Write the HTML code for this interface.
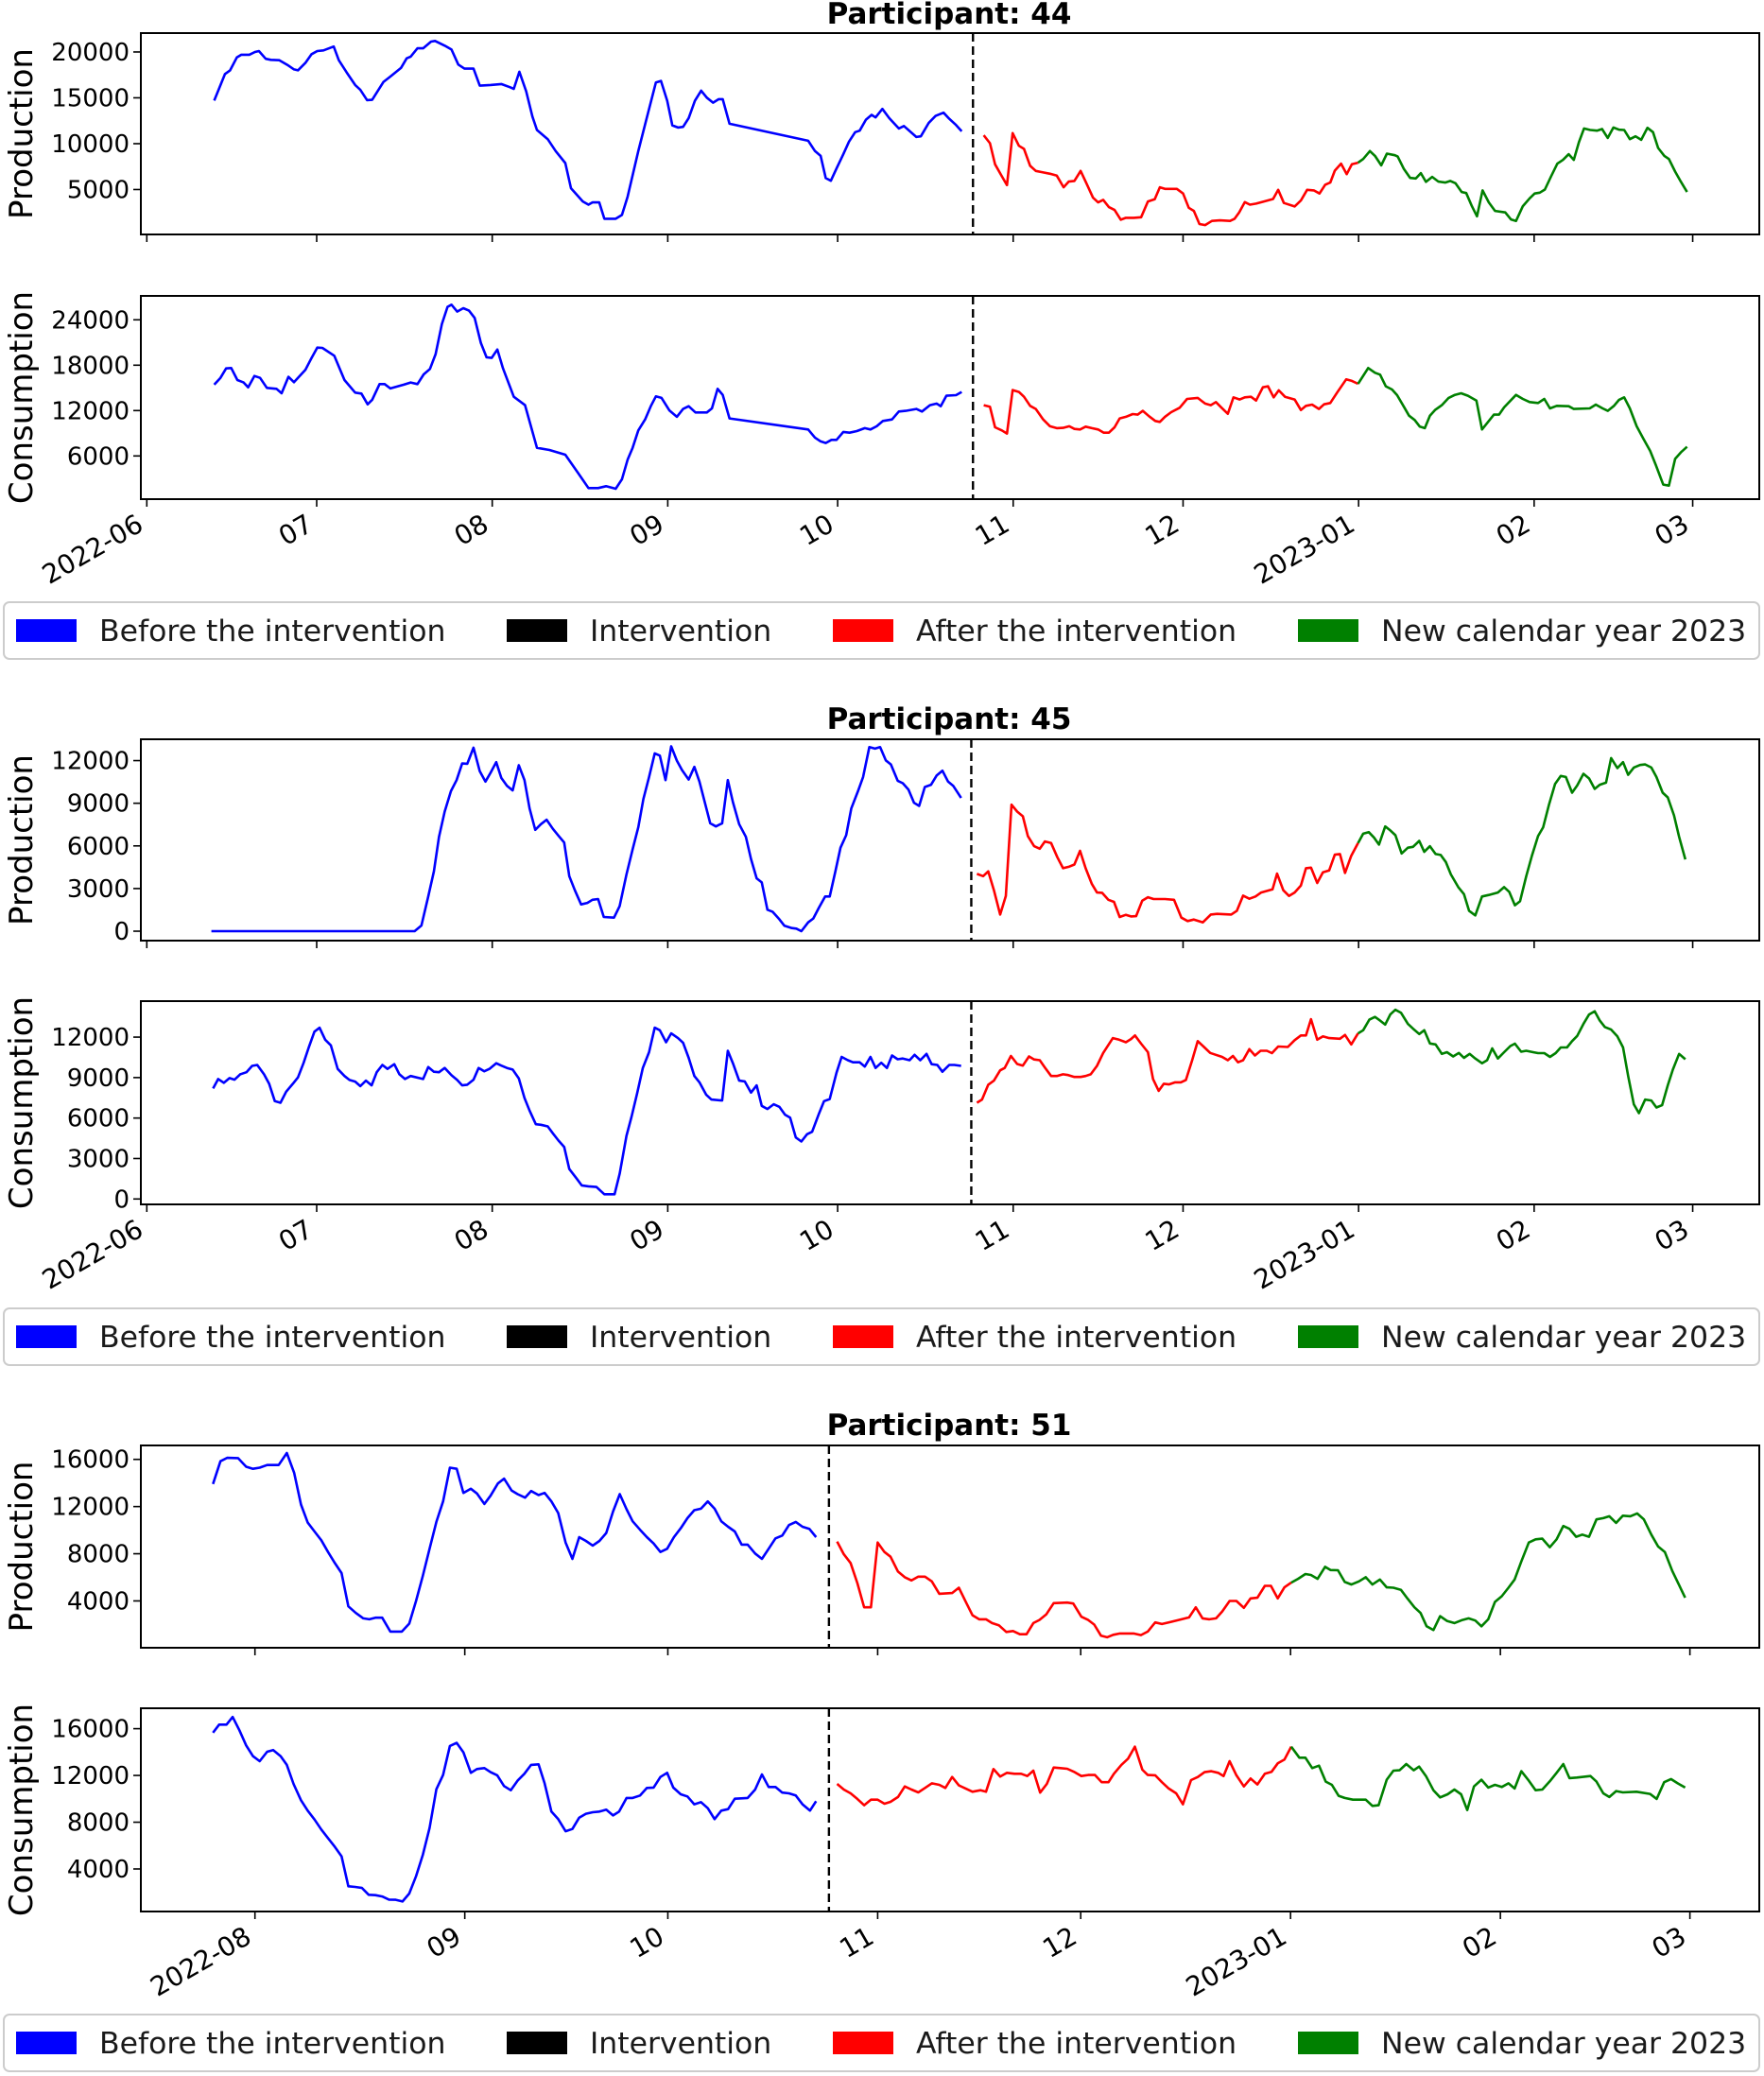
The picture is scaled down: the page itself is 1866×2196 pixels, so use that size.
<!DOCTYPE html>
<html><head><meta charset="utf-8">
<style>
html,body{margin:0;padding:0;background:#fff;}
svg{display:block;font-family:"DejaVu Sans","Liberation Sans",sans-serif;}
</style></head>
<body>
<svg id="fig" width="1866" height="2196" viewBox="0 0 1866 2196" xmlns="http://www.w3.org/2000/svg"></svg>
<script>
// ===== Participant 44 (days since 2022-06-01) =====
const p44ProdBeforeDays=[11.9,13.8,14.7,15.9,16.7,18.1,19.1,19.8,21,21.9,23.4,24.8,26,26.7,28,29.1,30.1,31.2,33,33.9,35.3,36.8,37.7,38.9,39.8,41.8,43,44.9,45.9,46.6,47.8,48.8,50.2,50.9,52.6,53.8,55,56.1,57.7,58.8,60.7,62.6,64.1,64.8,65.8,67,68.1,68.9,70.8,72.2,73.9,74.9,77,78,78.7,79.9,80.8,82.8,83.9,84.9,86.8,88.5,89.9,90.8,91.9,92.8,93.8,94.7,95.7,96.8,97.9,98.9,100,101,101.7,102.9,116.8,118,119,119.9,120.8,121.8,123,124,125.1,125.9,127,128,128.7,129.9,131.1,132.8,133.7,135.9,136.7,138.1,139.3,140.7,141.7,142.9,143.9];
const p44ProdBeforeVals=[14700,17600,18000,19400,19700,19700,20000,20100,19250,19140,19100,18600,18100,18000,18800,19760,20100,20170,20600,19100,17770,16400,15880,14750,14780,16740,17320,18280,19310,19490,20400,20400,21130,21200,20690,20270,18630,18180,18180,16330,16400,16500,16160,15980,17840,15710,12960,11490,10490,9190,7880,5140,3700,3350,3600,3600,1810,1810,2220,4210,9190,13310,16670,16840,14680,12000,11760,11830,12790,14680,15780,15020,14470,14850,14850,12170,10320,9190,8670,6240,5960,7300,8850,10220,11250,11420,12620,13140,12860,13790,12790,11660,11930,10730,10800,12280,13030,13380,12720,12040,11350];
const p44ProdAfterDays=[147.8,148.9,149.8,151,151.9,152.9,154,154.9,156,157,158.1,159.5,160.7,161.9,162.8,163.8,164.9,166,167.1,168,168.9,169.9,170.9,172,172.9,174.3,175.6,176.8,178,178.9,179.8,181.9,183,184,184.9,185.9,186.9,188.1,189.5,191.3,192.1,192.9,193.9,194.8,195.9,197.3,198.9,199.8,200.8,202.7,203.8,204.9,206.1,207.1,208.1,209,209.8,210.9,211.9,212.8,213.9];
const p44ProdAfterVals=[10910,10050,7750,6440,5480,11150,9770,9430,7580,7030,6890,6720,6510,5240,5860,5930,7030,5590,4110,3600,3870,3080,2770,1710,1910,1910,1980,3700,3940,5240,5070,5070,4560,3010,2670,1230,1120,1570,1640,1570,1810,2500,3630,3350,3460,3700,3970,4970,3530,3150,3800,4970,4900,4560,5520,5760,7060,7820,6680,7750,7920];
const p44ProdNewDays=[213.9,214.8,216,216.9,218,219,220.4,220.9,222,223.1,224.1,225,225.9,227,228.1,229.3,230.2,231.1,232.2,233,234,234.9,235.9,237,238.1,239.9,240.9,241.8,243,244.2,245.1,246,246.9,248,249.1,250.1,251.1,252,252.9,253.8,254.9,256.1,257,258,259,260,260.9,261.9,262.9,263.9,265,266,266.9,268,268.8,269.9,270.9,272];
const p44ProdNewVals=[7920,8330,9190,8670,7640,8910,8740,8600,7230,6270,6200,6790,5830,6380,5860,5760,5930,5690,4730,4620,3180,2080,4900,3600,2670,2500,1740,1570,3180,4040,4560,4660,5000,6440,7820,8230,8850,8230,10150,11660,11490,11420,11590,10630,11760,11520,11490,10490,10800,10420,11730,11250,9530,8670,8330,6960,5860,4730];
const p44ConsBeforeDays=[11.9,13,14,14.9,16,17.1,17.9,19,20,21.2,22.9,23.8,25,26,28,29.1,30.1,31,33.1,34.9,36.8,37.9,39,39.8,41.1,42,43,45.4,46.6,47.8,48.9,50,51,52.1,53.1,53.8,54.8,55.9,56.9,57.9,59,60,60.9,61.9,62.9,64.8,66.8,68.9,71.1,73.9,76.1,78,79.7,81.1,82.8,83.9,84.9,85.8,86.8,88,89,89.9,90.9,92.3,93.6,94.7,95.7,96.9,98.9,99.8,100.8,101.7,102.9,116.8,118,119,119.9,120.9,121.8,123,124.1,125.4,126.8,127.8,128.9,130,131.6,132.8,134,135.9,136.9,138.3,139.5,140.2,141.2,142.9,143.9];
const p44ConsBeforeVals=[15420,16330,17580,17620,16040,15710,15080,16580,16330,15000,14870,14290,16460,15750,17370,18960,20330,20290,19250,16040,14370,14250,12830,13420,15500,15500,14920,15420,15710,15500,16790,17500,19460,23420,25710,26000,25080,25540,25210,24250,20920,19040,18960,20080,17580,13830,12710,7080,6790,6170,3830,1750,1750,2000,1670,2920,5500,7080,9370,10830,12580,13870,13670,12000,11170,12210,12580,11750,11750,12290,14870,14080,10960,9500,8420,7920,7710,8120,8120,9170,9080,9290,9670,9500,9920,10620,10830,11870,11960,12210,11870,12710,12920,12580,13960,14040,14460];
const p44ConsAfterDays=[147.8,148.9,149.8,151,151.9,152.9,154,154.9,156,157,158.3,159.5,160.7,161.8,162.9,163.8,164.8,165.8,166.9,168,169,169.9,170.9,171.8,172.9,174.1,175,175.9,177,178.1,178.9,179.8,180.9,182.4,183.7,185.6,186.9,187.9,188.8,189.8,190.9,191.9,193,193.9,195,195.9,197.1,198,199,199.9,201,202.7,203.8,204.7,205.8,207,207.9,209,210.2,211.8,212.8,213.9];
const p44ConsAfterVals=[12710,12500,9790,9370,8960,14710,14460,13830,12620,12210,10830,9920,9670,9710,9920,9580,9500,9870,9670,9500,9080,9080,9790,10960,11170,11540,11460,11960,11250,10620,10500,11170,11790,12370,13540,13670,12920,12710,13120,12370,11580,13750,13460,13750,13830,13330,15080,15210,13750,14670,13830,13460,12080,12620,12790,12210,12830,13000,14370,16120,15920,15540];
const p44ConsNewDays=[213.9,215.7,216.9,217.8,218.8,219.9,220.8,222,222.9,223.9,224.8,225.7,226.6,227.5,228.7,229.9,231,232.1,233.3,234.8,235.8,237,237.9,238.8,239.7,241.8,243,244.2,245.7,246.8,247.8,249,251.1,252,254.8,255.9,257.1,258,259.1,260,260.9,261.9,263.1,264.3,265.5,266.5,267.8,268.8,269.9,270.9,272];
const p44ConsNewVals=[15540,17620,17000,16750,15210,14790,14040,12500,11330,10750,9870,9670,11330,12080,12710,13670,14080,14290,13960,13330,9500,10620,11460,11460,12420,14080,13540,13120,13000,13540,12290,12620,12580,12210,12290,12790,12290,11960,12620,13420,13750,12290,9920,8250,6670,4790,2210,2080,5620,6460,7210];

// ===== Participant 45 (days since 2022-06-01) =====
const p45ProdBeforeDays=[11.4,47.3,48.5,49.7,50.7,51.6,52.6,53.7,54.7,55.7,56.6,57.7,58.8,59.8,60.7,61.7,62.6,63.6,64.6,65.7,66.7,67.6,68.6,69.6,70.6,71.7,72.7,73.7,74.6,75.6,76.7,77.8,78.7,79.7,80.7,82.5,83.5,84.7,85.8,86.8,87.7,88.7,89.7,90.6,91.6,92.6,93.6,94.5,95.7,96.7,97.6,98.6,99.5,100.5,101.6,102.6,103.5,104.6,105.8,106.7,107.7,108.6,109.6,110.5,111.7,112.6,113.9,114.7,115.6,116.8,117.7,118.7,119.8,120.6,121.6,122.5,123.5,124.4,125.6,126.5,127.6,128.6,129.5,130.5,131.4,132.6,133.5,134.5,135.5,136.4,137.4,138.5,139.5,140.5,141.5,142.4,143.8];
const p45ProdBeforeVals=[0,0,400,2440,4210,6640,8410,9850,10630,11800,11780,12910,11250,10520,11140,11890,10780,10230,9900,11670,10630,8630,7130,7530,7840,7200,6710,6240,3870,2880,1880,1990,2210,2260,1000,950,1770,3990,5760,7310,9300,10850,12510,12350,10630,13000,12000,11340,10670,11560,10520,8970,7590,7370,7590,10630,9080,7530,6640,5090,3720,3430,1510,1370,840,380,220,180,0,620,890,1660,2440,2440,4210,5870,6750,8630,9850,10850,12950,12840,12950,12020,11730,10580,10410,9960,9030,8810,10140,10300,10960,11290,10520,10230,9370];
const p45ProdAfterDays=[146.6,147.7,148.6,149.6,150.7,151.7,152.7,153.7,154.7,155.6,156.7,157.7,158.6,159.7,160.8,161.8,162.9,163.8,164.8,165.8,166.9,167.8,168.7,169.8,170.8,171.8,172.9,173.8,174.7,175.8,176.8,177.8,179.8,181.4,182.7,183.8,184.9,186.5,187.9,189,191.5,192.5,193.6,194.7,195.8,196.8,198.8,199.6,200.7,201.7,202.7,203.8,204.7,205.6,206.7,207.7,208.8,209.8,210.7,211.6,212.7,213.9];
const p45ProdAfterVals=[4030,3870,4210,2880,1170,2480,8900,8410,8080,6690,5980,5800,6310,6200,5200,4430,4540,4690,5650,4430,3320,2720,2700,2210,2060,1000,1150,1040,1060,2150,2390,2260,2260,2210,950,710,820,620,1170,1220,1170,1440,2500,2280,2440,2720,2940,4050,2880,2480,2720,3210,4430,4470,3390,4140,4270,5380,5430,4100,5310,6200];
const p45ProdNewDays=[213.9,214.8,215.8,216.7,217.6,218.7,219.6,220.5,221.6,222.7,223.6,224.7,225.6,226.6,227.6,228.5,229.4,230.3,231.6,232.6,233.5,234.6,235.8,237,238.6,239.7,240.6,241.6,242.5,243.6,244.6,245.7,246.6,247.6,248.7,249.7,250.6,251.7,252.6,253.7,254.7,255.7,256.6,257.7,258.6,259.7,260.7,261.6,262.6,263.7,264.6,265.7,266.6,267.7,268.6,269.7,270.6,271.7];
const p45ProdNewVals=[6200,6860,6970,6600,6090,7370,7090,6750,5470,5870,5930,6350,5580,5980,5430,5360,4870,3990,3100,2610,1440,1110,2440,2550,2720,3100,2770,1820,2100,3870,5310,6690,7310,8860,10360,10920,10850,9740,10250,11070,10740,10010,10300,10450,12180,11470,11890,11000,11510,11690,11730,11510,10850,9740,9410,8150,6640,5050];
const p45ConsBeforeDays=[11.7,12.6,13.6,14.6,15.5,16.5,17.6,18.6,19.5,20.7,21.6,22.6,23.6,24.6,25.8,26.7,27.7,28.6,29.6,30.5,31.5,32.5,33.7,34.9,35.8,36.8,37.7,38.7,39.7,40.6,41.6,42.5,43.7,44.6,45.6,46.6,48.8,49.7,50.7,51.6,52.6,53.8,54.8,55.7,56.6,57.7,58.6,59.6,60.5,61.7,62.6,63.6,64.6,65.7,66.7,67.6,68.7,69.6,70.8,71.7,72.7,73.7,74.6,75.9,76.8,78,79.4,80.8,82.6,83.5,84.7,85.6,86.6,87.6,88.7,89.7,90.6,91.7,92.6,93.8,94.7,95.7,96.7,97.6,98.8,99.7,101.6,102.6,103.5,104.6,105.6,106.7,107.7,108.6,109.6,110.7,111.7,112.7,113.6,114.6,115.6,116.6,117.5,118.7,119.6,120.6,121.8,122.7,123.8,124.7,125.9,126.8,127.8,128.7,129.7,130.7,131.6,132.6,133.5,134.7,135.6,136.6,137.7,138.6,139.6,140.5,141.7,142.6,143.8];
const p45ConsBeforeVals=[8190,8890,8610,8960,8840,9240,9400,9870,9940,9240,8540,7250,7130,7950,8540,9010,10100,11230,12400,12700,11810,11390,9640,9120,8820,8700,8370,8770,8420,9400,9940,9640,9990,9240,8890,9120,8890,9780,9430,9400,9710,9170,8820,8420,8470,8840,9710,9470,9640,10060,9890,9710,9590,8940,7490,6550,5540,5500,5380,4870,4330,3860,2220,1520,1010,940,890,350,350,1870,4680,6080,7840,9710,10880,12700,12510,11620,12280,11930,11580,10460,9120,8650,7720,7370,7300,10990,10060,8770,8720,7880,8420,6900,6670,7020,6830,6250,6030,4560,4260,4800,4980,6320,7250,7410,9360,10530,10290,10130,10130,9820,10530,9710,10100,9710,10640,10360,10410,10290,10690,10290,10760,9990,9940,9430,9940,9940,9870];
const p45ConsAfterDays=[146.6,147.5,148.6,149.6,150.7,151.5,152.6,153.7,154.7,155.8,156.7,157.7,158.6,159.7,160.7,161.8,162.7,163.8,164.9,165.8,166.7,167.8,168.9,170.6,171.7,172.9,173.8,174.5,175.6,176.8,177.7,178.7,179.6,180.5,181.6,182.6,183.5,184.6,185.6,186.7,187.8,188.8,189.9,190.9,191.8,192.7,193.6,194.7,195.7,196.7,197.8,198.7,199.8,201.5,202.7,203.8,204.7,205.6,206.7,207.7,208.8,210.7,211.6,212.7,213.9];
const p45ConsAfterVals=[7130,7370,8470,8770,9540,9710,10600,10010,9890,10570,10340,10290,9750,9120,9120,9240,9190,9050,9050,9120,9240,9870,10830,11930,11810,11620,11860,12120,11510,10880,8890,8020,8540,8490,8650,8650,8820,10290,11700,11270,10830,10690,10530,10290,10600,10130,10290,11110,10640,10990,10990,10810,11300,11270,11770,12120,12120,13330,11810,12050,11930,11880,12160,11460,12280];
const p45ConsNewDays=[213.9,214.8,215.9,216.9,217.8,218.7,219.6,220.5,221.5,222.7,223.6,224.7,225.6,226.6,227.6,228.7,229.6,230.7,231.7,232.6,233.6,234.6,235.8,236.7,237.6,238.6,239.7,240.8,241.6,242.7,243.6,244.8,245.7,246.8,247.8,248.8,249.7,250.8,251.7,252.6,253.7,254.7,255.7,256.6,257.5,258.6,259.7,260.7,261.6,262.6,263.5,264.6,265.7,266.6,267.6,268.6,269.5,270.6,271.7];
const p45ConsNewVals=[12280,12510,13290,13500,13220,12930,13680,14030,13800,12980,12630,12230,12510,11530,11460,10760,10880,10570,10830,10460,10760,10410,10060,10290,11160,10410,10880,11340,11510,10920,10990,10880,10810,10810,10530,10810,11230,11230,11700,12090,12980,13680,13920,13220,12750,12560,12050,11230,9120,7020,6360,7370,7300,6780,6950,8420,9590,10760,10360];

// ===== Participant 51 (days since 2022-08-01) =====
const p51ProdBeforeDays=[-6.2,-5.1,-4.1,-2.5,-1.3,-0.3,0.7,1.8,3.5,4.7,5.8,6.8,7.8,8.8,9.8,10.8,11.8,12.8,13.8,14.9,16,16.9,17.8,18.8,20,21.7,22.8,23.8,24.8,25.8,26.8,27.8,28.8,29.8,30.8,31.9,32.8,33.9,34.8,35.9,36.8,37.9,38.8,39.9,40.8,41.9,42.8,43.8,44.8,45.9,46.9,47.9,48.9,49.9,50.9,51.9,52.9,53.9,54.9,55.8,56.9,57.9,58.9,59.9,60.9,61.9,62.9,63.9,64.9,65.9,66.9,67.9,68.9,69.9,70.9,71.9,72.8,73.9,74.9,75.9,76.9,77.9,78.9,79.9,80.9,81.9,82.9];
const p51ProdBeforeVals=[13910,15840,16130,16110,15380,15200,15300,15520,15520,16540,14850,12170,10640,9890,9140,8150,7210,6360,3540,2980,2520,2440,2580,2580,1400,1400,2070,4000,6140,8420,10700,12440,15300,15200,13160,13510,13110,12220,12920,13960,14370,13370,13050,12760,13320,12970,13160,12440,11450,8950,7560,9410,9090,8690,9090,9760,11580,13050,11770,10750,10030,9410,8870,8150,8420,9410,10160,11020,11690,11820,12440,11820,10750,10290,9890,8770,8770,8020,7560,8420,9300,9540,10430,10700,10290,10110,9410];
const p51ProdAfterDays=[86,87,88,89,90,91,92,93,93.9,95,96,97,98,99,100,101.1,103,104,105,106,107,108,108.9,109.9,111,112,113,114,115,115.9,116.9,118,120,120.9,122.1,123.1,124,125,125.9,126.8,127.8,129.8,130.9,131.9,133,134,135.2,136.9,138,139,140,141,142,142.9,144,145,146.1,147.1,148.1,149.2,150.1,151.1,152.1,153.1];
const p51ProdAfterVals=[9030,7960,7210,5520,3460,3460,8950,8150,7750,6490,6010,5740,6060,6060,5660,4610,4670,5120,3940,2790,2440,2440,2120,1940,1370,1450,1180,1180,2120,2390,2850,3810,3860,3780,2660,2390,1990,1050,920,1130,1240,1240,1100,1400,2180,2040,2200,2440,2600,3460,2520,2440,2520,3110,4000,4000,3410,4210,4270,5280,5280,4210,5150,5550];
const p51ProdNewDays=[153.1,154.1,155.2,156,157,158.1,158.9,160,161,162,163.1,164.1,165.1,166.2,167.2,168.2,169.3,170.3,171.3,172.2,173.1,174.1,175.1,176.1,177.2,178.4,179.3,180.3,181.2,182.2,183.2,184.2,185.2,186.1,187.1,188.2,189.2,190.2,191.3,192.3,193.3,194.2,195.2,196.1,197.1,198.2,199.2,200.1,201.1,202.1,203.2,204.2,205.2,206.3,207.3,208.3,209.4,210.4,211.3];
const p51ProdNewVals=[5550,5870,6280,6200,5870,6890,6620,6600,5610,5390,5660,6010,5390,5820,5150,5120,4940,4190,3460,2980,1850,1530,2710,2310,2120,2390,2520,2340,1850,2440,3920,4400,5120,5820,7350,8950,9220,9280,8550,9220,10350,10110,9440,9620,9440,10910,11020,11180,10620,11230,11180,11420,10910,9620,8610,8150,6540,5340,4270];
const p51ConsBeforeDays=[-6.2,-5.3,-4.2,-3.3,-2.3,-1.3,-0.3,0.7,1.8,2.7,3.8,4.7,5.7,6.8,7.8,8.8,9.8,10.8,11.8,12.8,13.8,14.8,15.8,16.8,17.8,18.8,19.8,20.8,21.8,22.8,23.8,24.8,25.8,26.8,27.8,28.8,29.8,30.8,31.9,32.8,33.9,34.8,35.8,36.8,37.8,38.8,39.8,40.8,41.9,42.8,43.8,44.8,45.9,46.9,47.9,48.9,49.9,50.9,51.9,52.9,53.8,54.9,55.8,56.9,57.9,58.9,59.9,60.9,61.8,62.9,63.9,64.9,65.9,66.9,67.9,68.9,69.9,70.9,72.8,73.9,74.9,75.9,76.9,77.9,78.9,79.9,80.9,82,82.9];
const p51ConsBeforeVals=[15650,16350,16350,17000,15870,14570,13650,13220,14030,14170,13650,12900,11280,9880,8990,8230,7370,6640,5890,5080,2520,2460,2380,1790,1760,1650,1380,1360,1220,1900,3380,5210,7500,10820,12040,14520,14790,13980,12220,12550,12630,12280,12010,11090,10740,11550,12140,12900,12950,11330,8910,8260,7230,7420,8390,8720,8850,8910,9070,8580,8910,10070,10070,10280,10930,10960,11870,12220,10960,10390,10200,9530,9720,9200,8260,8990,9120,10010,10070,10790,12090,11010,11010,10530,10470,10280,9530,8990,9800];
const p51ConsAfterDays=[86,87,88,89,90,91,92,93,93.9,95,96,97,98,99,100,101.1,102,103,104,105,106,107.2,108,109.1,110.1,111.1,112.2,113.2,114.1,115,116,117,118,119,120,121.1,122.1,123.1,124.1,125.1,126.1,126.9,128,129,130,131.1,131.9,133,134,135,136.1,137.1,138.3,139.3,140.3,141.3,142.3,143.1,144,145,146.1,147.1,148.1,149.2,150.2,151.1,152.1,153.1];
const p51ConsAfterVals=[11280,10790,10470,9990,9450,9930,9930,9580,9740,10150,11060,10790,10550,10930,11330,11200,10930,11870,11150,10880,10610,10740,10610,12550,11900,12220,12140,12140,11950,12410,10530,11280,12680,12630,12570,12280,11950,12040,12040,11420,11420,12140,12900,13440,14460,12490,12040,12010,11420,10880,10470,9530,11600,11870,12280,12360,12220,11950,13220,12010,11060,11740,11230,12140,12310,13030,13360,14460];
const p51ConsNewDays=[153.1,154.3,155.2,156.2,157.2,158.2,159.1,160.1,161,162.2,164.1,165.1,166,167.2,168.2,169.1,170.1,171.2,172,173,174.1,175.1,176.2,177.2,178.2,179.1,180.1,181.2,182.2,183.2,184.2,185.2,186.1,187.1,188.2,189.2,190.2,191.3,192.3,193.3,194.2,195.3,197.3,198.2,199.2,200.1,201.1,202.1,204.1,206.1,207.1,208.2,209.2,210.2,211.3];
const p51ConsNewVals=[14460,13520,13520,12630,12840,11470,11200,10260,10070,9930,9930,9390,9450,11630,12410,12440,12980,12440,12760,11950,10740,10120,10390,10790,10390,9040,11060,11630,10960,11200,11010,11330,10880,12360,11550,10740,10790,11500,12220,12980,11770,11820,11950,11470,10470,10150,10660,10550,10610,10420,9990,11420,11690,11330,10960];

// ===== axis ticks / labels =====
const p44ProdTicks=[5000,10000,15000,20000];
const p44ConsTicks=[6000,12000,18000,24000];
const p45ProdTicks=[0,3000,6000,9000,12000];
const p45ConsTicks=[0,3000,6000,9000,12000];
const p51ProdTicks=[4000,8000,12000,16000];
const p51ConsTicks=[4000,8000,12000,16000];
const juneMonthDays=[0,30,61,92,122,153,183,214,245,273];
const juneMonthLabels=['2022-06','07','08','09','10','11','12','2023-01','02','03'];
const augMonthDays=[0,31,61,92,122,153,184,212];
const augMonthLabels=['2022-08','09','10','11','12','2023-01','02','03'];
const legendLabels=['Before the intervention','Intervention','After the intervention','New calendar year 2023'];
const p44InterventionDay=145.9;
const p45InterventionDay=145.6;
const p51InterventionDay=84.8;

const NS='http://www.w3.org/2000/svg';
const svg=document.getElementById('fig');
function mk(tag,attrs,parent){const e=document.createElementNS(NS,tag);for(const k in attrs)e.setAttribute(k,attrs[k]);(parent||svg).appendChild(e);return e;}
const AX_L=149, AX_R=1861;
const COLORS={before:'#0000ff',after:'#ff0000',newyear:'#008000'};

function drawAxes(pid,kind,top,bottom,ymin,ymax,ticks,xScale,series,intervDay,ylabel){
  const g=mk('g',{});
  
  
  const yS=v=>bottom-(v-ymin)/(ymax-ymin)*(bottom-top);
  ticks.forEach(t=>{
    const y=yS(t);
    const tk=mk('line',{x1:AX_L-8,x2:AX_L,y1:y,y2:y,stroke:'#000','stroke-width':1.6},g);
    
    
    const tl=mk('text',{x:AX_L-12,y:y+9,'text-anchor':'end','font-size':26,fill:'#000'},g);
    tl.textContent=String(t);
    
    
  });
  series.forEach(s=>{
    const pts=s.days.map((d,i)=>`${xScale(d).toFixed(1)},${yS(s.vals[i]).toFixed(1)}`).join(' ');
    const pl=mk('polyline',{points:pts,fill:'none',stroke:COLORS[s.key],'stroke-width':2.6,'stroke-linejoin':'round'},g);
    
    
  });
  const ix=xScale(intervDay);
  const dl=mk('line',{x1:ix,x2:ix,y1:top,y2:bottom,stroke:'#000','stroke-width':2.4,'stroke-dasharray':'9,5'},g);
  
  
  const fr=mk('rect',{x:AX_L,y:top,width:AX_R-AX_L,height:bottom-top,fill:'none',stroke:'#000','stroke-width':2},g);
  
  
  const yl=mk('text',{x:0,y:0,'text-anchor':'middle','font-size':34,fill:'#000',transform:`translate(34,${(top+bottom)/2}) rotate(-90)`},g);
  yl.textContent=ylabel;
  
  
}

function drawXTicks(axisBottoms,xScale,days,labels){
  axisBottoms.forEach(b=>{
    days.forEach(d=>{
      const x=xScale(d);
      const t=mk('line',{x1:x,x2:x,y1:b,y2:b+8,stroke:'#000','stroke-width':1.6});
      
      
    });
  });
  const b=axisBottoms[axisBottoms.length-1];
  days.forEach((d,i)=>{
    const x=xScale(d);
    const tl=mk('text',{x:0,y:0,'text-anchor':'end','font-size':28,fill:'#000',transform:`translate(${x-2},${b+32}) rotate(-30)`});
    tl.textContent=labels[i];
    
    
  });
}

function drawTitle(pid,y){
  const t=mk('text',{x:1004,y:y,'text-anchor':'middle','font-size':31,'font-weight':'bold',fill:'#000'});
  t.textContent='Participant: '+pid;
  
  
}

function drawLegend(cy,idx){
  const g=mk('g',{});
  
  
  const box=mk('rect',{x:4,y:cy-30,width:1857,height:60,rx:6,fill:'#fff',stroke:'#cccccc','stroke-width':2},g);
  
  
  const cols=['#0000ff','#000000','#ff0000','#008000'];
  const px=[17,536,881,1373];
  legendLabels.forEach((lab,i)=>{
    const p=mk('rect',{x:px[i],y:cy-12,width:64,height:24,fill:cols[i]},g);
    
    
    const t=mk('text',{x:px[i]+88,y:cy+11,'font-size':31.5,fill:'#1a1a1a'},g);
    t.textContent=lab;
    
    
  });
}

const xJune=d=>155.3+d*5.99;
const xAug=d=>269.7+d*7.16;

drawTitle(44,25);
drawAxes(44,'production',35,248,100,22059,p44ProdTicks,xJune,[
  {key:'before',days:p44ProdBeforeDays,vals:p44ProdBeforeVals},
  {key:'after',days:p44ProdAfterDays,vals:p44ProdAfterVals},
  {key:'newyear',days:p44ProdNewDays,vals:p44ProdNewVals}],p44InterventionDay,'Production');
drawAxes(44,'consumption',313,528,290,27160,p44ConsTicks,xJune,[
  {key:'before',days:p44ConsBeforeDays,vals:p44ConsBeforeVals},
  {key:'after',days:p44ConsAfterDays,vals:p44ConsAfterVals},
  {key:'newyear',days:p44ConsNewDays,vals:p44ConsNewVals}],p44InterventionDay,'Consumption');
drawXTicks([248,528],xJune,juneMonthDays,juneMonthLabels);
drawLegend(667,1);

drawTitle(45,771);
drawAxes(45,'production',782,995,-664,13500,p45ProdTicks,xJune,[
  {key:'before',days:p45ProdBeforeDays,vals:p45ProdBeforeVals},
  {key:'after',days:p45ProdAfterDays,vals:p45ProdAfterVals},
  {key:'newyear',days:p45ProdNewDays,vals:p45ProdNewVals}],p45InterventionDay,'Production');
drawAxes(45,'consumption',1059,1274,-400,14667,p45ConsTicks,xJune,[
  {key:'before',days:p45ConsBeforeDays,vals:p45ConsBeforeVals},
  {key:'after',days:p45ConsAfterDays,vals:p45ConsAfterVals},
  {key:'newyear',days:p45ConsNewDays,vals:p45ConsNewVals}],p45InterventionDay,'Consumption');
drawXTicks([995,1274],xJune,juneMonthDays,juneMonthLabels);
drawLegend(1414,2);

drawTitle(51,1518);
drawAxes(51,'production',1529,1743,30,17181,p51ProdTicks,xAug,[
  {key:'before',days:p51ProdBeforeDays,vals:p51ProdBeforeVals},
  {key:'after',days:p51ProdAfterDays,vals:p51ProdAfterVals},
  {key:'newyear',days:p51ProdNewDays,vals:p51ProdNewVals}],p51InterventionDay,'Production');
drawAxes(51,'consumption',1807,2022,361,17747,p51ConsTicks,xAug,[
  {key:'before',days:p51ConsBeforeDays,vals:p51ConsBeforeVals},
  {key:'after',days:p51ConsAfterDays,vals:p51ConsAfterVals},
  {key:'newyear',days:p51ConsNewDays,vals:p51ConsNewVals}],p51InterventionDay,'Consumption');
drawXTicks([1743,2022],xAug,augMonthDays,augMonthLabels);
drawLegend(2161,3);
</script>
</body></html>
